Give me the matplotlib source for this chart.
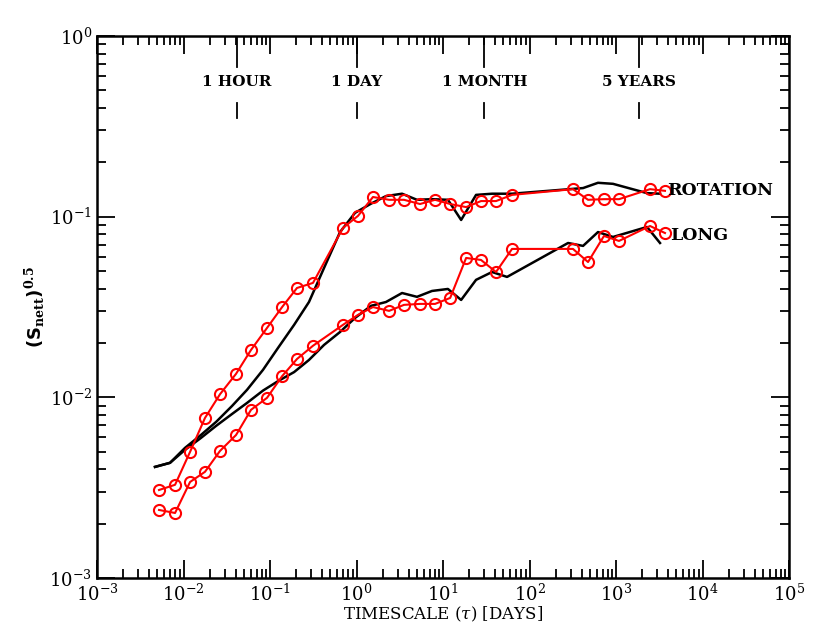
import numpy as np
import matplotlib
matplotlib.use('Agg')
import matplotlib.pyplot as plt
from matplotlib.ticker import LogLocator, NullFormatter

plt.rcParams['font.family'] = ['DejaVu Serif']
plt.rcParams['mathtext.fontset'] = 'dejavuserif'

# ---- datos ----
# escalas (dias) de los puntos rojos, comunes a las dos series
tau_rojo = [0.00521, 0.00798, 0.0119, 0.0177, 0.0264, 0.0405, 0.0603, 0.0922,
            0.138, 0.205, 0.314, 0.698, 1.04, 1.55, 2.38, 3.54, 5.42, 8.09,
            12.1, 18.5, 27.5, 41.0, 62.8, 318, 475, 726, 1083, 2473, 3683]
rot_rojo = [0.00307, 0.00328, 0.00499, 0.00769, 0.0104, 0.0135, 0.0183, 0.0242,
            0.0316, 0.0403, 0.0430, 0.0867, 0.101, 0.1285, 0.124, 0.124, 0.1175,
            0.124, 0.1175, 0.113, 0.122, 0.122, 0.132, 0.142, 0.124, 0.125,
            0.125, 0.142, 0.139]
long_rojo = [0.00238, 0.00229, 0.00340, 0.00387, 0.00505, 0.00619, 0.00853,
             0.00993, 0.0131, 0.0163, 0.0193, 0.0252, 0.0286, 0.0316, 0.0301,
             0.0325, 0.0329, 0.0329, 0.0355, 0.0591, 0.0576, 0.0494, 0.0663,
             0.0663, 0.0561, 0.0782, 0.0734, 0.0888, 0.0812]

# curvas negras
tau_rot_negro = [0.00468, 0.00698, 0.0104, 0.0159, 0.0238, 0.0364, 0.0542, 0.0830,
                 0.124, 0.190, 0.282, 0.421, 0.645, 0.961, 1.47, 2.19, 3.36, 5.00,
                 7.46, 11.4, 16.2, 24.1, 36.9, 62.8, 416, 619, 923, 2283, 3227]
rot_negro = [0.00412, 0.00434, 0.00525, 0.00619, 0.00731, 0.00896, 0.0110, 0.0142,
             0.0188, 0.0252, 0.0337, 0.0520, 0.0822, 0.105, 0.118, 0.130, 0.134,
             0.124, 0.125, 0.124, 0.0959, 0.132, 0.134, 0.134, 0.144, 0.154,
             0.152, 0.135, 0.134]

tau_long_negro = [0.00468, 0.00698, 0.0104, 0.0159, 0.0238, 0.0364, 0.0542, 0.0830,
                  0.124, 0.190, 0.282, 0.421, 0.645, 0.961, 1.47, 2.19, 3.36, 5.00,
                  7.46, 11.4, 16.2, 24.1, 36.9, 55.0, 279, 416, 619, 923, 2283, 3227]
long_negro = [0.00412, 0.00434, 0.00512, 0.00596, 0.00695, 0.00809, 0.00931, 0.0109,
              0.0123, 0.0138, 0.0161, 0.0195, 0.0230, 0.0275, 0.0321, 0.0337, 0.0378,
              0.0360, 0.0388, 0.0398, 0.0346, 0.0447, 0.0494, 0.0464, 0.0715, 0.0689,
              0.0822, 0.0772, 0.0877, 0.0715]

# marcas de tiempo en la parte superior
marcas_tau = [1/24, 1.0, 30.0, 5*365.25]
marcas_txt = ['1 HOUR', '1 DAY', '1 MONTH', '5 YEARS']

# ---- figura ----
fig = plt.figure(figsize=(8.3, 6.42), dpi=100)
ax = fig.add_axes([0.1169, 0.0997, 0.8337, 0.8442])

ax.plot(tau_rot_negro, rot_negro, color='black', lw=1.8)
ax.plot(tau_long_negro, long_negro, color='black', lw=1.8)
ax.plot(tau_rojo, rot_rojo, color='red', lw=1.5, marker='o', ms=8,
        mfc='none', mec='red', mew=1.5)
ax.plot(tau_rojo, long_rojo, color='red', lw=1.5, marker='o', ms=8,
        mfc='none', mec='red', mew=1.5)

ax.set_xscale('log')
ax.set_yscale('log')
ax.set_xlim(1e-3, 1e5)
ax.set_ylim(1e-3, 1)

ax.xaxis.set_major_locator(LogLocator(base=10, numticks=20))
ax.xaxis.set_minor_locator(LogLocator(base=10, subs=np.arange(2, 10), numticks=20))
ax.xaxis.set_minor_formatter(NullFormatter())
ax.yaxis.set_minor_formatter(NullFormatter())
ax.tick_params(which='both', direction='in', top=True, right=True, width=1.3,
               labelsize=13)
ax.tick_params(which='major', length=13)
ax.tick_params(which='minor', length=6.5)
ax.tick_params(axis='x', pad=4)
for s in ax.spines.values():
    s.set_linewidth(1.8)

for t, txt in zip(marcas_tau, marcas_txt):
    ax.plot([t, t], [1.0, 0.674], color='black', lw=1.3)
    ax.plot([t, t], [0.426, 0.352], color='black', lw=1.3)
    ax.text(t, 0.556, txt, ha='center', va='center', fontsize=11,
            fontweight='bold')

ax.text(3900, 0.139, 'ROTATION', ha='left', va='center', fontsize=12.5,
        fontweight='bold')
ax.text(4200, 0.079, 'LONG', ha='left', va='center', fontsize=12.5,
        fontweight='bold')

ax.set_xlabel(r'TIMESCALE ($\tau$) [DAYS]', fontsize=12, labelpad=0)
ax.set_ylabel(r'(S$_{\mathbf{nett}}$)$^{\mathbf{0.5}}$', fontsize=13,
              family='DejaVu Sans', fontweight='bold', labelpad=2)

fig.savefig('out.png', dpi=100)
